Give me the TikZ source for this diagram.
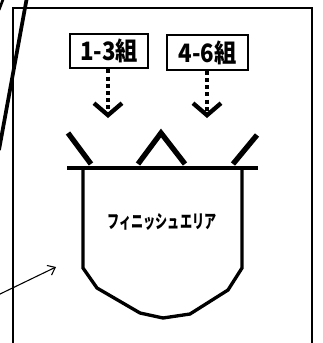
\documentclass[tikz,border=0pt]{standalone}
\usepackage{fontspec}
\newfontfamily\jpfont{Noto Sans CJK JP}[FakeStretch=0.88]
\newfontfamily\jpnarrow{Noto Sans CJK JP}[FakeStretch=0.65]
\usetikzlibrary{arrows.meta}

\begin{document}
\begin{tikzpicture}[
                x=0.75pt, y=-0.75pt,
                every node/.style={inner sep=0pt},
                group/.style={draw, line width=1.5pt, minimum height=26pt,
                    font=\jpfont\bfseries\fontsize{19}{19}\selectfont},
                flow/.style={line width=3pt, dash pattern=on 3pt off 2.4pt,
                    -{Straight Barb[length=9pt, width=21pt, line width=3.2pt]}},
                gate/.style={line width=4pt},
                wall/.style={line width=2.5pt},
            ]
            \useasboundingbox (0,0) rectangle (323,343);
            % field
            \draw[line width=1.5pt] (13,360) -- (13,8) -- (312,8) -- (312,360);
            \draw[line width=2.8pt] (27,-3) -- (-1,150);
            \draw[line width=2pt] (4,-3) -- (-1,10);
            % groups
            \node[group, minimum width=58pt] (g13) at (109,51) {1-3組};
            \node[group, minimum width=60.5pt] (g46) at (207.5,52.5) {4-6組};
            \coordinate (in13) at (108,118);
            \coordinate (in46) at (207,118);
            \draw[flow] (g13.south -| in13) -- (in13);
            \draw[flow] (g46.south -| in46) -- (in46);
            % gates
            \draw[gate] (68,133) -- (91,164);
            \draw[gate] (138,164) -- (161,133) -- (185,164);
            \draw[gate] (257,135) -- (233,164);
            \draw[line width=2.4pt] (67,168) -- (258,168);
            % finish area
            \draw[wall] (83,168) -- (83,268) -- (97,288) -- (140,313) -- (163,318)
                -- (190,314) -- (228,290) -- (242,268) -- (242,168);
            \node[font=\jpnarrow\bfseries\fontsize{14}{14}\selectfont] (finish) at (162,222) {フィニッシュエリア};
            % pointer
            \coordinate (from) at (-2,295);
            \coordinate (to) at (56,267);
            \draw[line width=0.8pt, -{Straight Barb[length=5pt, width=8pt]}] (from) -- (to);
\end{tikzpicture}
\end{document}
